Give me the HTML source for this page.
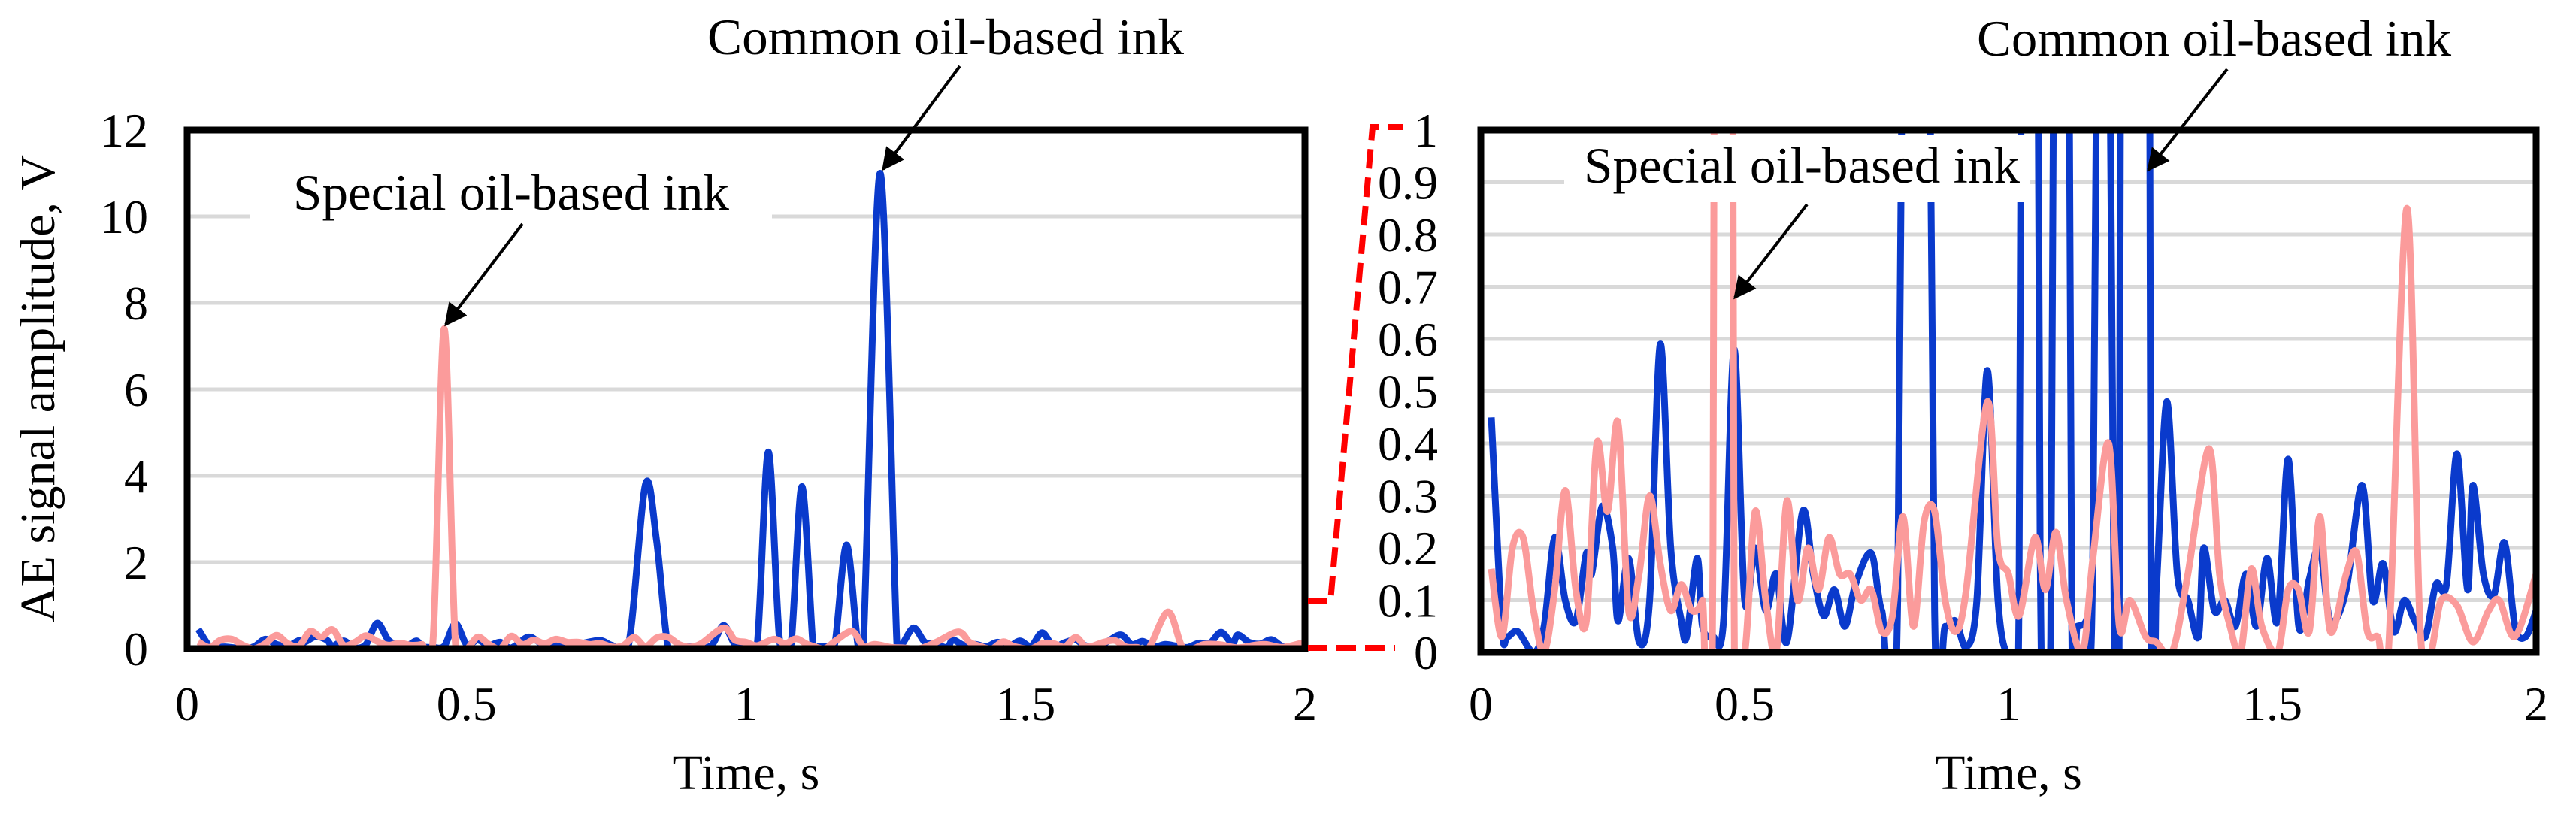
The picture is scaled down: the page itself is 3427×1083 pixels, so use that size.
<!DOCTYPE html>
<html><head><meta charset="utf-8"><style>
html,body{margin:0;padding:0;background:#fff;width:3427px;height:1083px;overflow:hidden;}
svg{display:block;font-family:"Liberation Serif","Times New Roman",serif;}
</style></head><body>
<svg id="chart" width="3427" height="1083" viewBox="0 0 3427 1083" xmlns="http://www.w3.org/2000/svg">
<defs>
<clipPath id="clipL"><rect x="249" y="173" width="1487" height="690"/></clipPath>
<clipPath id="clipR"><rect x="1970" y="173" width="1404" height="695"/></clipPath>
<marker id="ah" markerWidth="40" markerHeight="30" refX="9" refY="5" orient="auto" markerUnits="userSpaceOnUse" viewBox="0 0 10 10"><path d="M0,0 L10,5 L0,10 z" fill="#000"/></marker>
</defs>
<g id="left"></g>
<g id="right"></g>
<g id="overlay"></g>
</svg>
<script>
const timeTicks = [0, 0.5, 1, 1.5, 2];
const leftYTicks = [0, 2, 4, 6, 8, 10, 12];
const rightYTicks = [0, 0.1, 0.2, 0.3, 0.4, 0.5, 0.6, 0.7, 0.8, 0.9, 1];
const commonT = [0.02,0.04,0.05,0.07,0.1,0.12,0.14,0.16,0.18,0.2,0.21,0.23,0.25,0.26,0.28,0.3,0.32,0.34,0.36,0.38,0.39,0.41,0.42,0.44,0.46,0.48,0.5,0.52,0.54,0.56,0.58,0.61,0.63,0.65,0.67,0.69,0.71,0.74,0.76,0.79,0.82,0.84,0.86,0.88,0.9,0.92,0.94,0.96,0.98,1.0,1.02,1.04,1.06,1.08,1.1,1.12,1.13,1.15,1.16,1.18,1.2,1.21,1.24,1.27,1.28,1.3,1.32,1.34,1.36,1.37,1.39,1.41,1.43,1.45,1.47,1.49,1.51,1.53,1.55,1.57,1.59,1.61,1.64,1.67,1.69,1.71,1.73,1.75,1.77,1.79,1.81,1.83,1.85,1.87,1.88,1.9,1.92,1.94,1.96,1.98,2.0];
const commonV = [0.45,0.05,0.03,0.04,0.0,0.05,0.22,0.1,0.06,0.19,0.15,0.28,0.2,0.06,0.18,0.02,0.1,0.59,0.2,0.06,0.03,0.18,0.05,0.03,0.06,0.58,0.1,0.2,0.08,0.15,0.02,0.27,0.15,0.07,0.12,0.05,0.13,0.19,0.08,0.1,3.8,2.5,0.08,0.05,0.06,0.01,0.1,0.54,0.1,0.0,0.1,4.55,0.2,0.03,3.75,0.05,0.05,0.07,0.2,2.4,0.1,0.08,11.0,0.1,0.12,0.48,0.15,0.1,0.03,0.2,0.08,0.1,0.05,0.15,0.05,0.18,0.06,0.37,0.05,0.14,0.2,0.06,0.12,0.32,0.1,0.17,0.04,0.1,0.06,0.03,0.13,0.13,0.38,0.12,0.32,0.15,0.11,0.21,0.05,0.03,0.08];
const specialT = [0.02,0.04,0.06,0.08,0.1,0.12,0.14,0.16,0.18,0.2,0.22,0.24,0.26,0.28,0.3,0.32,0.34,0.36,0.38,0.4,0.42,0.44,0.46,0.48,0.5,0.52,0.54,0.56,0.58,0.6,0.62,0.64,0.66,0.68,0.7,0.72,0.74,0.76,0.78,0.8,0.82,0.84,0.86,0.88,0.9,0.92,0.96,0.98,1.0,1.02,1.05,1.07,1.09,1.11,1.14,1.16,1.19,1.21,1.23,1.26,1.28,1.31,1.34,1.38,1.4,1.42,1.44,1.46,1.48,1.51,1.53,1.55,1.57,1.59,1.61,1.64,1.66,1.68,1.7,1.72,1.755,1.78,1.8,1.82,1.85,1.88,1.91,1.93,1.96,2.0];
const specialV = [0.16,0.03,0.2,0.22,0.08,0.0,0.12,0.31,0.12,0.06,0.4,0.27,0.44,0.08,0.15,0.3,0.17,0.08,0.13,0.08,0.1,0.2,7.4,0.1,0.0,0.27,0.1,0.0,0.29,0.1,0.2,0.12,0.22,0.15,0.15,0.1,0.12,0.04,0.07,0.26,0.05,0.25,0.27,0.1,0.04,0.12,0.48,0.2,0.15,0.07,0.22,0.12,0.23,0.1,0.0,0.18,0.4,0.05,0.1,0.03,0.02,0.0,0.15,0.39,0.15,0.05,0.0,0.16,0.05,0.0,0.12,0.12,0.04,0.26,0.04,0.15,0.19,0.04,0.03,0.0,0.85,0.05,0.0,0.1,0.09,0.02,0.08,0.1,0.03,0.15];

const NS = "http://www.w3.org/2000/svg";
function mk(tag, attrs, parent, text) {
  const e = document.createElementNS(NS, tag);
  for (const k in attrs) e.setAttribute(k, attrs[k]);
  if (text !== undefined) e.textContent = text;
  parent.appendChild(e);
  return e;
}
function smoothPath(pts) {
  let d = "M" + pts[0][0].toFixed(1) + "," + pts[0][1].toFixed(1);
  for (let i = 0; i < pts.length - 1; i++) {
    const p0 = pts[i - 1] || pts[i], p1 = pts[i], p2 = pts[i + 1], p3 = pts[i + 2] || p2;
    const k = 0.16;
    const c1 = [p1[0] + (p2[0] - p0[0]) * k, p1[1] + (p2[1] - p0[1]) * k];
    const c2 = [p2[0] - (p3[0] - p1[0]) * k, p2[1] - (p3[1] - p1[1]) * k];
    d += "C" + c1[0].toFixed(1) + "," + c1[1].toFixed(1) + " " + c2[0].toFixed(1) + "," + c2[1].toFixed(1) + " " + p2[0].toFixed(1) + "," + p2[1].toFixed(1);
  }
  return d;
}
function drawChart(g, cfg) {
  const xS = t => cfg.x0 + (t / 2) * (cfg.x1 - cfg.x0);
  const yS = v => cfg.y0 - (v / cfg.ymax) * (cfg.y0 - cfg.y1);
  cfg.yTicks.forEach(v => {
    if (v > 0 && v < cfg.ymax) {
      const gl = mk("line", {x1: cfg.x0, x2: cfg.x1, y1: yS(v), y2: yS(v), stroke: "#d9d9d9", "stroke-width": 5}, g);
      
      
    }
    const tl = mk("text", {x: cfg.ylabX, y: yS(v) + 22, "text-anchor": "end", "font-size": 64, fill: "#000"}, g, String(v));
    
    
  });
  timeTicks.forEach(t => {
    const tl = mk("text", {x: xS(t), y: 958, "text-anchor": "middle", "font-size": 64, fill: "#000"}, g, String(t));
    
    
  });
  const series = [[commonT, commonV, "#0a3acc", "common-ink-line"], [specialT, specialV, "#fb9b9b", "special-ink-line"]];
  series.forEach(s => {
    const pts = s[0].map((t, i) => [xS(t), yS(s[1][i])]);
    const p = mk("path", {d: smoothPath(pts), fill: "none", stroke: s[2], "stroke-width": 9, "stroke-linejoin": "round", "clip-path": "url(#" + cfg.clip + ")"}, g);
    
    
  });
  const wb = mk("rect", {x: cfg.box[0], y: cfg.box[1], width: cfg.box[2], height: cfg.box[3], fill: "#fff"}, g);
  
  
  const fr = mk("rect", {x: cfg.x0, y: cfg.y1, width: cfg.x1 - cfg.x0, height: cfg.y0 - cfg.y1, fill: "none", stroke: "#000", "stroke-width": 9}, g);
  
  
  const xt = mk("text", {x: (cfg.x0 + cfg.x1) / 2, y: 1050, "text-anchor": "middle", "font-size": 66, fill: "#000"}, g, "Time, s");
  
  
  cfg.labels.forEach(L => {
    const tx = mk("text", {x: L.x, y: L.y, "font-size": 68, textLength: L.w, lengthAdjust: "spacingAndGlyphs", fill: "#000"}, g, L.text);
    
    
    const ar = mk("line", {x1: L.a[0], y1: L.a[1], x2: L.a[2], y2: L.a[3], stroke: "#000", "stroke-width": 4, "marker-end": "url(#ah)"}, g);
    
    
  });
}

drawChart(document.getElementById("left"), {
  x0: 249, x1: 1736, y0: 863, y1: 173, ymax: 12, yTicks: leftYTicks, ylabX: 197, clip: "clipL",
  box: [333, 232, 694, 70],
  labels: [
    {text: "Common oil-based ink", x: 941, y: 72, w: 634, name: "common-ink-label", a: [1277, 88, 1175, 225]},
    {text: "Special oil-based ink", x: 390, y: 279, w: 580, name: "special-ink-label", a: [695, 298, 593, 432]}
  ]
});
drawChart(document.getElementById("right"), {
  x0: 1970, x1: 3374, y0: 868, y1: 173, ymax: 1, yTicks: rightYTicks, ylabX: 1913, clip: "clipR",
  box: [2081, 180, 620, 89],
  labels: [
    {text: "Common oil-based ink", x: 2630, y: 74, w: 631, name: "common-ink-label", a: [2963, 92, 2858, 226]},
    {text: "Special oil-based ink", x: 2107, y: 243, w: 580, name: "special-ink-label", a: [2404, 272, 2308, 396]}
  ]
});
const ov = document.getElementById("overlay");
const yt = mk("text", {x: 0, y: 0, "text-anchor": "middle", "font-size": 66, fill: "#000", transform: "translate(72,517) rotate(-90)"}, ov, "AE signal amplitude, V");


const z1 = mk("polyline", {points: "1740,800 1770,800 1826,169 1866,169", fill: "none", stroke: "#f00", "stroke-width": 8, "stroke-dasharray": "26,12"}, ov);


const z2 = mk("line", {x1: 1740, y1: 862, x2: 1856, y2: 862, stroke: "#f00", "stroke-width": 8, "stroke-dasharray": "26,12"}, ov);


</script>
</body></html>
